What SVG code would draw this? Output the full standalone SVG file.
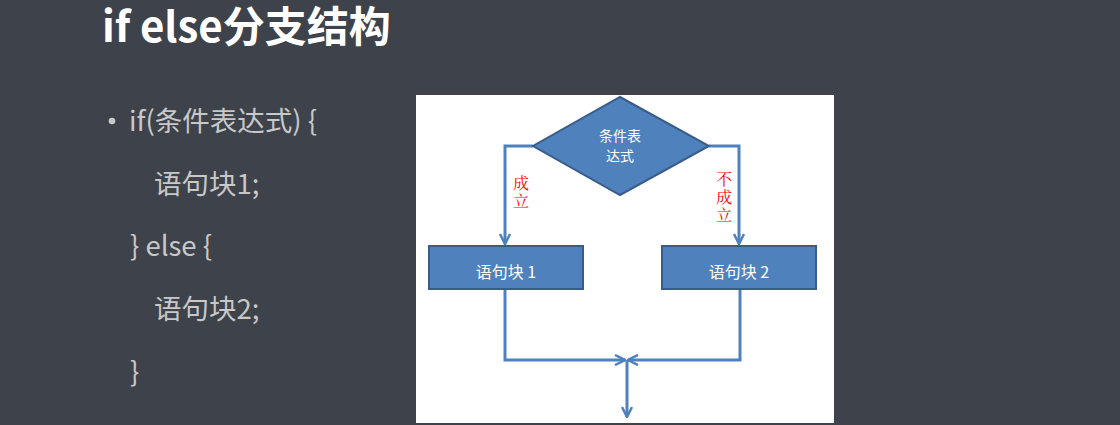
<svg xmlns="http://www.w3.org/2000/svg" width="1120" height="425" viewBox="0 0 1120 425">
<style>
.bg{fill:#3e424b}
.title{font-family:"Noto Sans CJK SC","Noto Sans",sans-serif;font-weight:bold;font-size:42px;fill:#ffffff}
.code{font-family:"Noto Sans CJK SC","Noto Sans",sans-serif;font-size:27.5px;fill:#c8c8c8}
.shape{fill:#4f81bd;stroke:#385d8a;stroke-width:2}
.ntext{font-family:"Noto Sans CJK SC","Noto Sans",sans-serif;font-size:16px;fill:#ffffff;text-anchor:middle}
.dtext{font-family:"Noto Sans CJK SC","Noto Sans",sans-serif;font-size:14px;fill:#ffffff;text-anchor:middle}
.red{font-family:"Noto Serif CJK SC","Noto Sans CJK SC",serif;font-size:16px;fill:#ff0000;writing-mode:vertical-rl;letter-spacing:2px}
.conn{fill:none;stroke:#4f81bd;stroke-width:3}
</style>
<defs>
<marker id="arr" viewBox="0 0 12 12" refX="11" refY="6" markerWidth="12" markerHeight="12" markerUnits="userSpaceOnUse" orient="auto">
<path d="M1,1 L11,6 L1,11" fill="none" stroke="#4f81bd" stroke-width="2.5"/>
</marker>
</defs>
<rect class="bg" x="0" y="0" width="1120" height="425"/>
<text class="title" x="102" y="42">if else分支结构</text>
<g id="code">
<circle cx="112" cy="121" r="3.3" fill="#c8c8c8"/>
<text class="code" x="129" y="131">if(条件表达式) {</text>
<text class="code" x="154" y="194">语句块1;</text>
<text class="code" x="130" y="256">} else {</text>
<text class="code" x="154" y="319">语句块2;</text>
<text class="code" x="130" y="382">}</text>
</g>
<rect x="416" y="95" width="418" height="328" fill="#ffffff"/>
<g id="connectors">
<polyline class="conn" points="533,146 505,146 505,244" marker-end="url(#arr)"/>
<polyline class="conn" points="709,146 739,146 739,244" marker-end="url(#arr)"/>
<polyline class="conn" points="505,290 505,360 625,360" marker-end="url(#arr)"/>
<polyline class="conn" points="740,290 740,360 628,360" marker-end="url(#arr)"/>
<line class="conn" x1="627" y1="360" x2="627" y2="417" marker-end="url(#arr)"/>
</g>
<g id="cond">
<polygon class="shape" points="620,97 709,146 620,195 533,146"/>
<text class="dtext" x="620" y="141">条件表<tspan x="620" dy="20">达式</tspan></text>
</g>
<g id="block1">
<rect class="shape" x="429" y="246" width="154" height="43"/>
<text class="ntext" x="506" y="278">语句块 1</text>
</g>
<g id="block2">
<rect class="shape" x="662" y="246" width="154" height="43"/>
<text class="ntext" x="739" y="278">语句块 2</text>
</g>
<g id="labels">
<text class="red" x="521" y="175">成立</text>
<text class="red" x="724" y="171">不成立</text>
</g>
</svg>
